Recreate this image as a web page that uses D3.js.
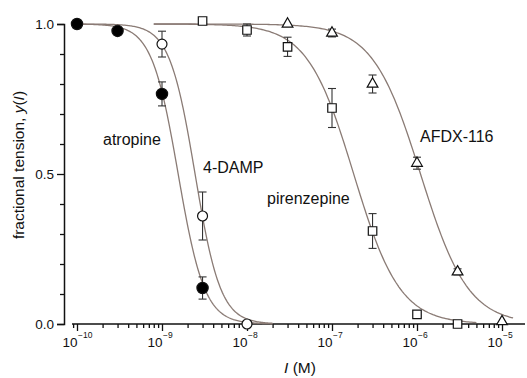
<!DOCTYPE html>
<html>
<head>
<meta charset="utf-8">
<script src="https://cdn.jsdelivr.net/npm/d3@7/dist/d3.min.js"></script>
<style>
  body { margin: 0; background: #fff; }
  text { font-family: "Liberation Sans", Arial, Helvetica, sans-serif; fill: #111; }
</style>
</head>
<body>
<svg id="chart" width="527" height="378"></svg>
<script>
// ---- data ----
const decadeExponents = [-10, -9, -8, -7, -6, -5];
const yTickValues = [0.0, 0.5, 1.0];
const yTickLabels = ["0.0", "0.5", "1.0"];

const atropineConc = [1e-10, 3e-10, 1e-9, 3e-9];
const atropineResp = [1.0, 0.977, 0.767, 0.12];
const atropineErr  = [0, 0, 0.04, 0.037];

const damp4Conc = [1e-9, 3e-9, 1e-8];
const damp4Resp = [0.933, 0.36, 0.0];
const damp4Err  = [0.043, 0.08, 0];

const pirenzepineConc = [3e-9, 1e-8, 3e-8, 1e-7, 3e-7, 1e-6, 3e-6];
const pirenzepineResp = [1.01, 0.98, 0.924, 0.72, 0.31, 0.032, 0.0];
const pirenzepineErr  = [0, 0.02, 0.032, 0.065, 0.058, 0, 0];

const afdxConc = [3e-8, 1e-7, 3e-7, 1e-6, 3e-6, 1e-5];
const afdxResp = [1.0, 0.97, 0.80, 0.536, 0.174, 0.008];
const afdxErr  = [0, 0.013, 0.03, 0.02, 0.01, 0];

// Hill fits: IC50, Hill coefficient, and plotted concentration span
const fitNames  = ["atropine", "4-DAMP", "pirenzepine", "AFDX-116"];
const fitIC50   = [1.55e-9, 2.45e-9, 1.8e-7, 1.1e-6];
const fitHill   = [2.8, 2.9, 1.6, 1.55];
const fitFrom   = [8.7e-11, 8.7e-11, 8e-10, 8e-10];
const fitTo     = [2e-8, 2e-8, 5e-6, 1.35e-5];

// ---- layout ----
const svg = d3.select("#chart");
const base = d3.scaleLog().domain([1e-10, 1e-5]).range([77, 502]);
const xLeft = 72, xRight = 525;
const x = d3.scaleLog()
  .domain([base.invert(xLeft), base.invert(xRight)])
  .range([xLeft, xRight]);
const y = d3.scaleLinear().domain([0, 1]).range([324, 24]);
const yAxisX = 64;
const xAxisY = 324;

const curveColor = "#8a7b75";

// ---- axes ----
// x axis: majors at decades, minors at 2..9 × decade
const majorX = decadeExponents.map(e => Math.pow(10, e));
const minorX = [];
for (let e = -11; e <= -5; e++) {
  for (let m = 2; m <= 9; m++) {
    const v = m * Math.pow(10, e);
    const px = x(v);
    if (px >= xLeft && px <= xRight) minorX.push(v);
  }
}

const gx = svg.append("g").attr("transform", `translate(0,${xAxisY})`);
gx.call(d3.axisBottom(x).tickValues(majorX).tickSize(7).tickFormat(""))
  .call(g => g.select(".domain").attr("d", `M${xLeft},0H${xRight}`));
gx.append("g").call(d3.axisBottom(x).tickValues(minorX).tickSize(4).tickFormat(""))
  .call(g => g.select(".domain").remove());
gx.selectAll("line").attr("stroke", "#111").attr("stroke-width", 1.3);
gx.selectAll(".domain").attr("stroke", "#111").attr("stroke-width", 1.5);

// x tick labels: 10 with superscript exponent
decadeExponents.forEach(e => {
  const px = x(Math.pow(10, e));
  svg.append("text")
    .attr("x", px + 0.5).attr("y", 347)
    .attr("text-anchor", "end")
    .attr("font-size", 13.5)
    .text("10");
  svg.append("text")
    .attr("x", px + 1).attr("y", 338)
    .attr("font-size", 8.5)
    .text("\u2212" + Math.abs(e));
});

// y axis
const minorY = d3.range(0.1, 1.0, 0.1).filter(v => Math.abs(v - 0.5) > 1e-6);
const gy = svg.append("g").attr("transform", `translate(${yAxisX},0)`);
gy.call(d3.axisLeft(y).tickValues(yTickValues).tickSize(7).tickFormat(""));
gy.append("g").call(d3.axisLeft(y).tickValues(minorY).tickSize(4).tickFormat(""))
  .call(g => g.select(".domain").remove());
gy.selectAll("line").attr("stroke", "#111").attr("stroke-width", 1.3);
gy.selectAll(".domain").attr("stroke", "#111").attr("stroke-width", 1.5);

yTickValues.forEach((v, i) => {
  svg.append("text")
    .attr("x", 54).attr("y", y(v) + 4.5)
    .attr("text-anchor", "end")
    .attr("font-size", 13.5)
    .text(yTickLabels[i]);
});

// axis titles
const xTitle = svg.append("text")
  .attr("x", 300).attr("y", 373)
  .attr("text-anchor", "middle")
  .attr("font-size", 15.5);
xTitle.append("tspan").attr("font-style", "italic").text("I");
xTitle.append("tspan").text(" (M)");

const yTitle = svg.append("text")
  .attr("transform", "translate(24,165) rotate(-90)")
  .attr("text-anchor", "middle")
  .attr("font-size", 15.5);
yTitle.append("tspan").text("fractional tension, ");
yTitle.append("tspan").attr("font-style", "italic").text("y");
yTitle.append("tspan").text("(");
yTitle.append("tspan").attr("font-style", "italic").text("I");
yTitle.append("tspan").text(")");

// ---- fitted curves ----
const line = d3.line().x(d => x(d[0])).y(d => y(d[1]));
fitNames.forEach((name, i) => {
  const lo = Math.log10(fitFrom[i]), hi = Math.log10(fitTo[i]);
  const pts = d3.range(0, 201).map(k => {
    const c = Math.pow(10, lo + (hi - lo) * k / 200);
    return [c, 1 / (1 + Math.pow(c / fitIC50[i], fitHill[i]))];
  });
  svg.append("path")
    .datum(pts)
    .attr("d", line)
    .attr("fill", "none")
    .attr("stroke", curveColor)
    .attr("stroke-width", 1.3);
});

// ---- error bars ----
function errorBars(conc, resp, err) {
  const g = svg.append("g").attr("stroke", "#333").attr("stroke-width", 1.1);
  conc.forEach((c, i) => {
    if (!err[i]) return;
    const px = x(c), y0 = y(resp[i] - err[i]), y1 = y(resp[i] + err[i]);
    g.append("line").attr("x1", px).attr("x2", px).attr("y1", y0).attr("y2", y1);
    g.append("line").attr("x1", px - 4).attr("x2", px + 4).attr("y1", y0).attr("y2", y0);
    g.append("line").attr("x1", px - 4).attr("x2", px + 4).attr("y1", y1).attr("y2", y1);
  });
}
errorBars(pirenzepineConc, pirenzepineResp, pirenzepineErr);
errorBars(afdxConc, afdxResp, afdxErr);
errorBars(damp4Conc, damp4Resp, damp4Err);
errorBars(atropineConc, atropineResp, atropineErr);

// ---- markers ----
const sym = (type, size) => d3.symbol().type(type).size(size)();

function markers(conc, resp, type, size, fill) {
  svg.append("g").selectAll("path")
    .data(conc.map((c, i) => [c, resp[i]]))
    .join("path")
    .attr("transform", d => `translate(${x(d[0])},${y(d[1])})`)
    .attr("d", sym(type, size))
    .attr("fill", fill)
    .attr("stroke", "#111")
    .attr("stroke-width", 1.2);
}
markers(pirenzepineConc, pirenzepineResp, d3.symbolSquare, 72, "#fff");
markers(afdxConc, afdxResp, d3.symbolTriangle, 50, "#fff");
markers(damp4Conc, damp4Resp, d3.symbolCircle, 78, "#fff");
markers(atropineConc, atropineResp, d3.symbolCircle, 100, "#000");

// ---- series labels ----
const labels = [
  { text: "atropine",    x: 103, y: 145 },
  { text: "4-DAMP",      x: 203, y: 173 },
  { text: "pirenzepine", x: 267, y: 204 },
  { text: "AFDX-116",    x: 420, y: 142 }
];
labels.forEach(l => {
  svg.append("text")
    .attr("x", l.x).attr("y", l.y)
    .attr("font-size", 16)
    .text(l.text);
});
</script>
</body>
</html>
